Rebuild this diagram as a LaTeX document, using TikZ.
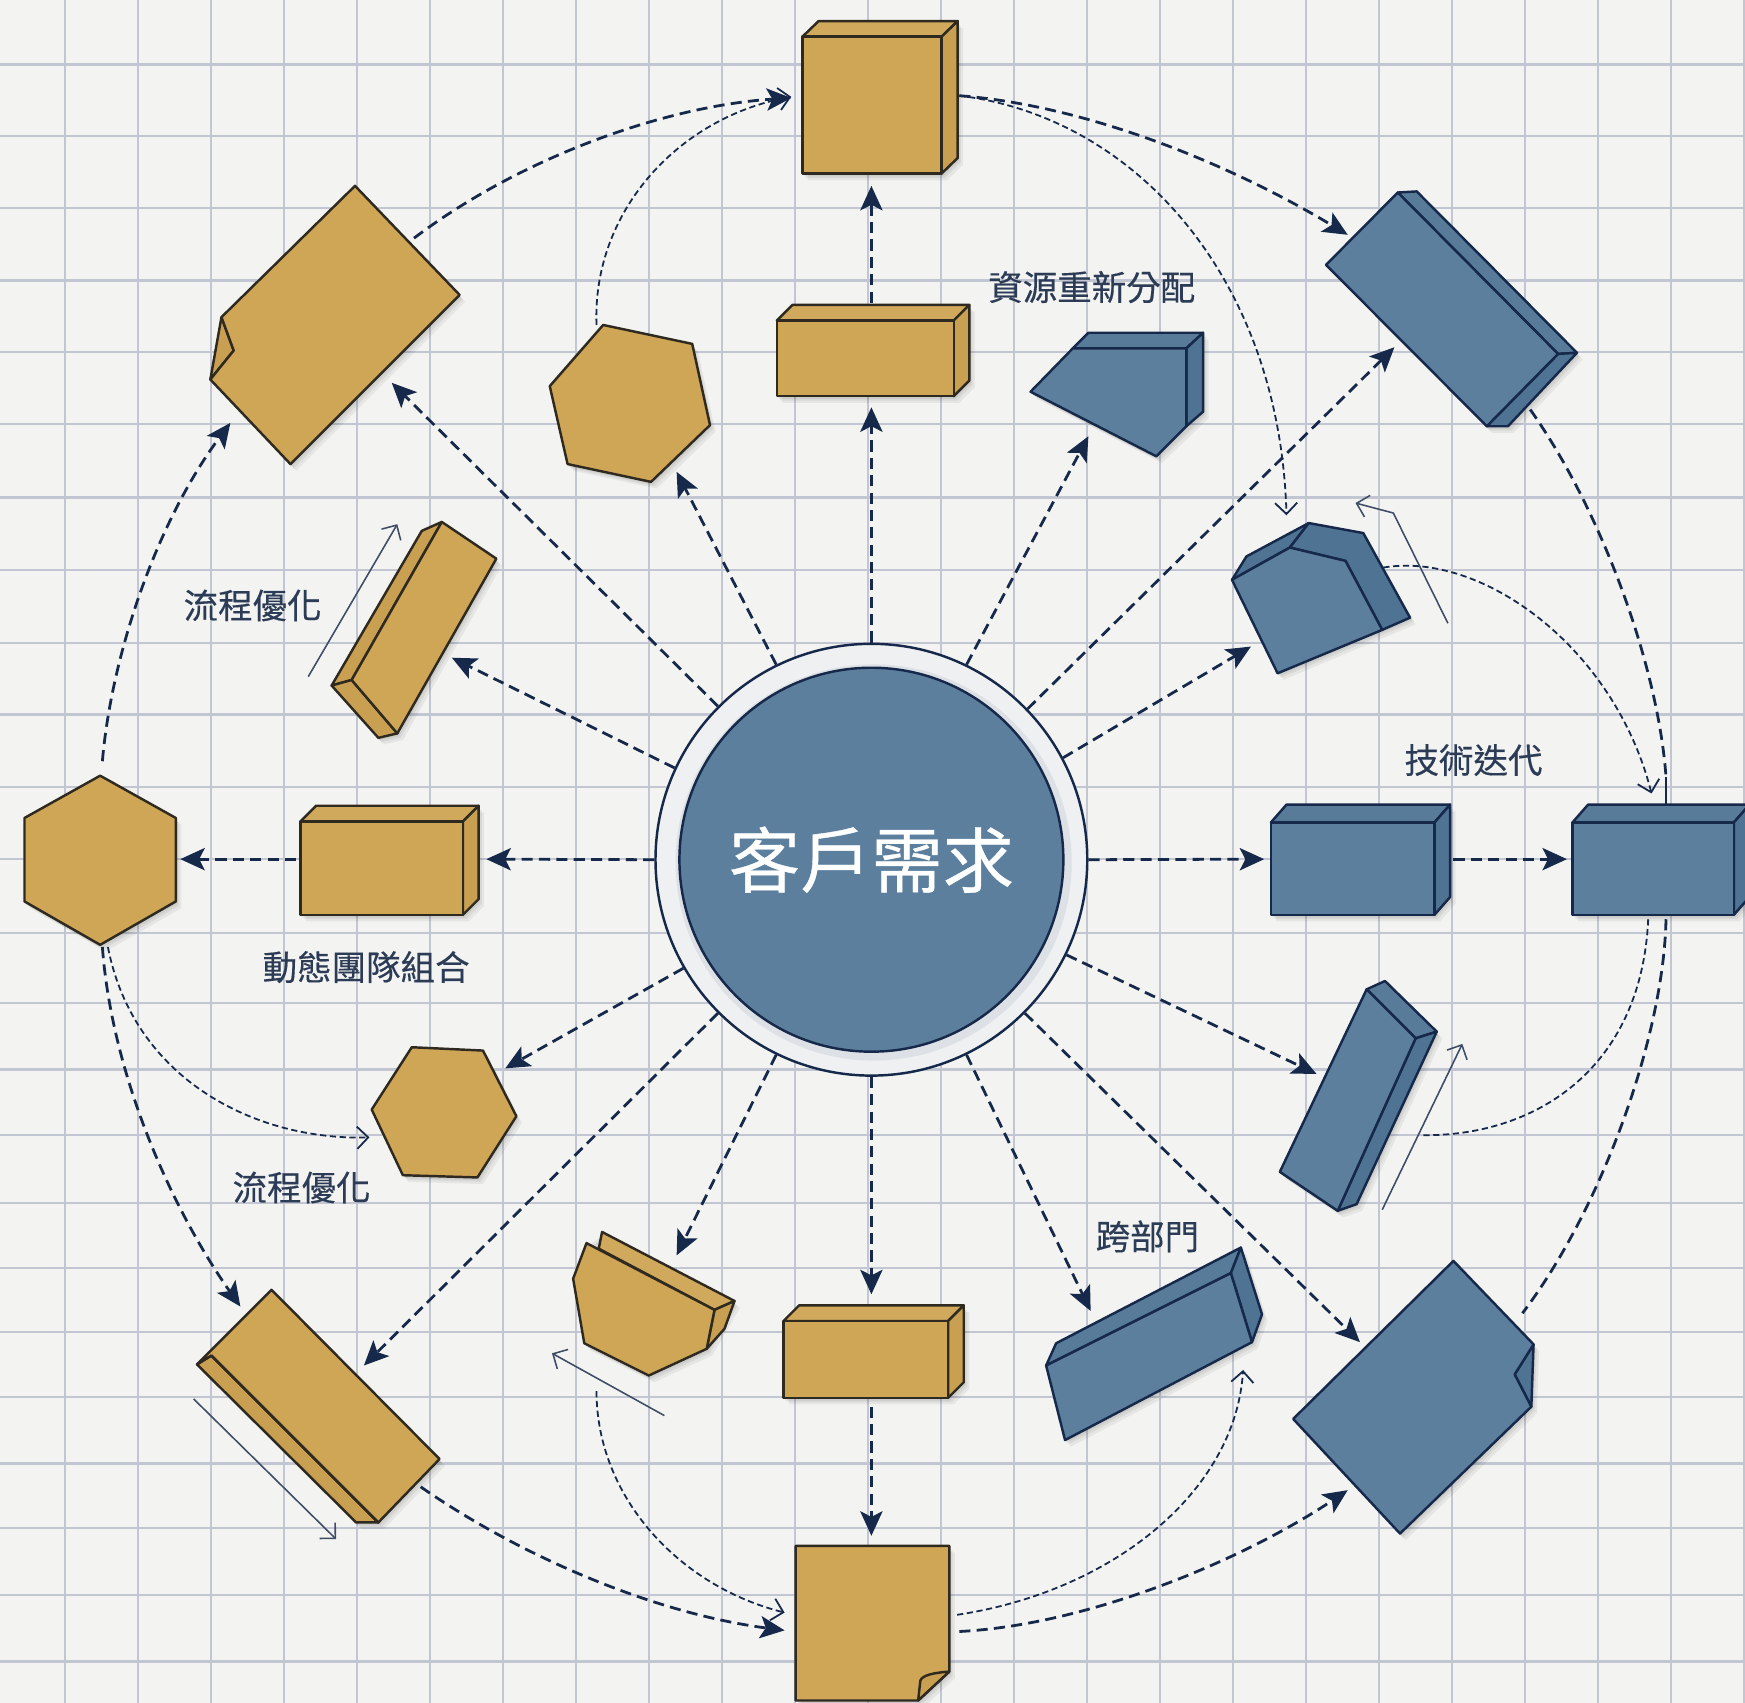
\documentclass[tikz,border=0pt]{standalone}
\usepackage{fontspec}
\setmainfont{Noto Sans CJK TC}
\newfontfamily\tagfont[FakeBold=0.35]{Noto Sans CJK TC}
\newfontfamily\hubfont[FakeBold=0.5]{Noto Sans CJK TC}
\usetikzlibrary{arrows.meta}
\definecolor{paper}{HTML}{F3F4F1}
\definecolor{gridc}{HTML}{C2C6D2}
\definecolor{navy}{HTML}{16294A}
\definecolor{labelc}{HTML}{2C3B56}
\definecolor{thinc}{HTML}{3E4C66}
\definecolor{goldf}{HTML}{CFA556}
\definecolor{golds}{HTML}{C9A052}
\definecolor{goldt}{HTML}{D0A95C}
\definecolor{goldl}{HTML}{2F2A20}
\definecolor{bluef}{HTML}{5C7F9E}
\definecolor{blues}{HTML}{4F7393}
\definecolor{bluet}{HTML}{587B9A}
\definecolor{ringc}{HTML}{EEF0F1}
\definecolor{ringd}{HTML}{DDE1E6}
\tikzset{
  x=0.5pt,y=-0.5pt,
  gridline/.style={gridc,line width=.95pt},
  goldface/.style={fill=goldf,draw=goldl,line width=1.1pt,line join=round},
  goldside/.style={fill=golds,draw=goldl,line width=1.1pt,line join=round},
  goldtop/.style={fill=goldt,draw=goldl,line width=1.1pt,line join=round},
  blueface/.style={fill=bluef,draw=navy,line width=1.1pt,line join=round},
  blueside/.style={fill=blues,draw=navy,line width=1.1pt,line join=round},
  bluetop/.style={fill=bluet,draw=navy,line width=1.1pt,line join=round},
  radial/.style={navy,line width=1.25pt,dash pattern=on 5pt off 2.8pt,
    -{Stealth[length=11pt,width=10pt,inset=2.5pt]}},
  orbit/.style={navy,line width=1.25pt,dash pattern=on 5pt off 2.8pt,
    -{Stealth[length=11pt,width=10pt,inset=2.5pt]}},
  orbitplain/.style={navy,line width=1.25pt,dash pattern=on 5pt off 2.8pt},
  loopline/.style={navy,line width=.8pt,dash pattern=on 2.8pt off 1.6pt,
    -{Straight Barb[length=5pt,width=10pt]}},
  loopplain/.style={navy,line width=.8pt,dash pattern=on 2.8pt off 1.6pt},
  thinarrow/.style={draw=thinc,line width=.7pt,-{Straight Barb[length=5pt,width=10pt]}},
  tag/.style={text=labelc,font=\tagfont\fontsize{15.5pt}{17pt}\selectfont,inner sep=0pt}
}
\newcommand{\softshadow}[1]{%
  \foreach \s in {1.5,3,5} {\fill[black,opacity=.055,shift={(\s,\s+1)}] #1;}}
% \solidbox{gold|blue}{xl}{yt}{xr}{yb}{dx}{dy}
\newcommand{\solidbox}[7]{%
  \softshadow{(#2,#3) -- ({#2+#6},{#3-#7}) -- ({#4+#6},{#3-#7}) -- ({#4+#6},{#5-#7}) -- (#4,#5) -- (#2,#5) -- cycle}
  \draw[#1top] (#2,#3) -- ({#2+#6},{#3-#7}) -- ({#4+#6},{#3-#7}) -- (#4,#3) -- cycle;
  \draw[#1side] (#4,#3) -- ({#4+#6},{#3-#7}) -- ({#4+#6},{#5-#7}) -- (#4,#5) -- cycle;
  \draw[#1face] (#2,#3) rectangle (#4,#5);}
\begin{document}
\begin{tikzpicture}
\useasboundingbox (0,0) rectangle (1568,1530);
\clip (0,0) rectangle (1568,1530);
\fill[paper] (0,0) rectangle (1568,1530);
% grid
\foreach \k in {0,...,23} \draw[gridline] ({58.4+65.6*\k},0) -- ({58.4+65.6*\k},1530);
\foreach \yy in {58,122,187,252,316,381,447,512,578,642,707,772,838,901,961,1020,1081,1139,1197,1255,1315,1373,1433,1493}
  \draw[gridline] (0,\yy) -- (1568,\yy);

% hub
\node[circle,draw=navy,fill=ringc,line width=1.1pt,minimum size=194pt,inner sep=0pt] (ring) at (783,772.5) {};
\node[circle,fill=ringd,minimum size=178pt,inner sep=0pt] (ringshade) at (785,775) {};
\node[circle,draw=navy,fill=bluef,line width=1.1pt,minimum size=172.5pt,inner sep=0pt,text=white,
      font=\hubfont\fontsize{32pt}{36pt}\selectfont] (hub) at (783,772.5) {客戶需求};

% ---------- shapes: gold ----------
\solidbox{gold}{721}{33}{846}{156}{14.5}{14}
\solidbox{gold}{698}{288}{857}{356}{14}{14}
\solidbox{gold}{270}{738}{416}{822}{14}{14}
\solidbox{gold}{704}{1187}{852}{1256}{14}{14}

% rotated hexagon under the top
\softshadow{(542,292) -- (622,309) -- (638,382) -- (585,433) -- (510,417) -- (494,347) -- cycle}
\draw[goldface] (542,292) -- (622,309) -- (638,382) -- (585,433) -- (510,417) -- (494,347) -- cycle;

% folded sheet upper left
\softshadow{(319,167) -- (413,265) -- (261,417) -- (189,341) -- (199,285) -- cycle}
\draw[goldside] (199,285) -- (210,315) -- (197,331) -- (189,341) -- cycle;
\draw[goldface] (319,167) -- (413,265) -- (261,417) -- (189,341) -- (197,331) -- (210,315) -- (199,285) -- cycle;

% slanted bar left
\softshadow{(379,477) -- (397,469) -- (446,502) -- (357,659) -- (340,663) -- (298,616) -- cycle}
\draw[goldside] (379,477) -- (397,469) -- (316,611) -- (298,616) -- cycle;
\draw[goldside] (298,616) -- (316,611) -- (357,659) -- (340,663) -- cycle;
\draw[goldface] (316,611) -- (397,469) -- (446,502) -- (357,659) -- cycle;

% hexagons
\softshadow{(90,697) -- (158,735) -- (158,810) -- (90,849) -- (22,810) -- (22,735) -- cycle}
\draw[goldface] (90,697) -- (158,735) -- (158,810) -- (90,849) -- (22,810) -- (22,735) -- cycle;
\softshadow{(370,941) -- (434,944) -- (464,1003) -- (429,1058) -- (362,1056) -- (334,997) -- cycle}
\draw[goldface] (370,941) -- (434,944) -- (464,1003) -- (429,1058) -- (362,1056) -- (334,997) -- cycle;

% bowl
\softshadow{(541,1107) -- (660,1169) -- (635,1212) -- (583,1236) -- (525,1207) -- (515,1149) -- (527,1117) -- cycle}
\draw[goldtop] (541,1107) -- (660,1169) -- (642,1177) -- (538,1122) -- cycle;
\draw[goldside] (642,1177) -- (660,1169) -- (651,1194) -- (635,1212) -- cycle;
\draw[goldface] (527,1117) -- (642,1177) -- (635,1212) -- (583,1236) -- (525,1207) -- (515,1149) -- cycle;

% slanted bar lower left
\softshadow{(244,1159) -- (395,1311) -- (340,1368) -- (320,1368) -- (177,1226) -- cycle}
\draw[goldside] (177,1226) -- (190,1218) -- (340,1368) -- (320,1368) -- cycle;
\draw[goldface] (244,1159) -- (395,1311) -- (340,1368) -- (190,1218) -- (177,1226) -- cycle;
\draw[goldl,line width=1.1pt] (190,1218) -- (340,1368);

% sheet at the bottom
\softshadow{(715,1389) -- (853,1389) -- (853,1502) -- (825,1528) -- (715,1528) -- cycle}
\draw[goldface] (715,1389) -- (853,1389) -- (853,1502) -- (825,1528) -- (715,1528) -- cycle;
\draw[goldside] (853,1502) .. controls (840,1503) and (829,1505) .. (827,1510) -- (825,1528) -- cycle;

% ---------- shapes: blue ----------
\solidbox{blue}{1142}{739}{1289}{822}{14}{16}
\solidbox{blue}{1413}{739}{1558}{822}{14}{16}

% wedge under 資源重新分配
\softshadow{(978,299) -- (1081,299) -- (1081,370) -- (1039,410) -- (926,352) -- cycle}
\draw[bluetop] (978,299) -- (1081,299) -- (1066,313) -- (964,313) -- cycle;
\draw[blueside] (1066,313) -- (1081,299) -- (1081,370) -- (1066,383) -- cycle;
\draw[blueface] (964,313) -- (1066,313) -- (1066,383) -- (1039,410) -- (926,352) -- cycle;

% slanted bar upper right
\softshadow{(1256,173) -- (1273,172) -- (1417,317) -- (1355,383) -- (1336,383) -- (1191.5,238) -- cycle}
\draw[bluetop] (1256,173) -- (1273,172) -- (1417,317) -- (1400,318) -- cycle;
\draw[blueside] (1400,318) -- (1417,317) -- (1355,383) -- (1336,383) -- cycle;
\draw[blueface] (1256,173) -- (1400,318) -- (1336,383) -- (1191.5,238) -- cycle;

% faceted block right
\softshadow{(1107,521) -- (1120,500) -- (1176,470) -- (1225,479) -- (1267,555) -- (1148,605) -- cycle}
\draw[blueside] (1107,521) -- (1120,500) -- (1176,470) -- (1159,492) -- cycle;
\draw[blueside] (1176,470) -- (1225,479) -- (1267,555) -- (1242,566) -- (1209,504) -- (1159,492) -- cycle;
\draw[blueface] (1107,521) -- (1159,492) -- (1209,504) -- (1242,566) -- (1148,605) -- cycle;

% slanted bar lower right
\softshadow{(1228,889) -- (1244.5,881.5) -- (1291,927) -- (1219,1082) -- (1202,1088) -- (1150,1053) -- cycle}
\draw[bluetop] (1228,889) -- (1244.5,881.5) -- (1291,927) -- (1272,933) -- cycle;
\draw[blueside] (1272,933) -- (1291,927) -- (1219,1082) -- (1202,1088) -- cycle;
\draw[blueface] (1228,889) -- (1272,933) -- (1202,1088) -- (1150,1053) -- cycle;

% wedge under 跨部門
\softshadow{(949,1207) -- (1115,1121) -- (1134,1181) -- (1125,1206) -- (957,1294) -- (940,1227) -- cycle}
\draw[bluetop] (949,1207) -- (1115,1121) -- (1106,1144) -- (940,1227) -- cycle;
\draw[blueside] (1106,1144) -- (1115,1121) -- (1134,1181) -- (1125,1206) -- cycle;
\draw[blueface] (940,1227) -- (1106,1144) -- (1125,1206) -- (957,1294) -- cycle;

% sheet lower right
\softshadow{(1306,1133) -- (1378,1208) -- (1376,1264) -- (1258,1378) -- (1162,1275) -- cycle}
\draw[blueside] (1378,1208) -- (1361,1235) -- (1376,1264) -- cycle;
\draw[blueface] (1306,1133) -- (1378,1208) -- (1361,1235) -- (1376,1264) -- (1258,1378) -- (1162,1275) -- cycle;

% ---------- connector ends ----------
\coordinate (inTopBox) at (783,167);
\coordinate (outMidTop) at (783,272);
\coordinate (inMidTop) at (783,366);
\coordinate (inHexTop) at (608,424);
\coordinate (inSheetUL) at (352,344);
\coordinate (inBarL) at (406,591);
\coordinate (inBoxL) at (437,772);
\coordinate (outBoxL) at (266,772);
\coordinate (inHexL) at (162,772);
\coordinate (inHexLow) at (454,960);
\coordinate (inBarLL) at (327,1227);
\coordinate (inBowl) at (608,1128);
\coordinate (inMidLow) at (783,1163);
\coordinate (outMidLow) at (783,1264);
\coordinate (inSheetB) at (783,1380);
\coordinate (inWedgeLow) at (980,1178);
\coordinate (inSheetLR) at (1222,1206);
\coordinate (inBarLR) at (1183,965);
\coordinate (inBoxR) at (1136,772);
\coordinate (outBoxR) at (1306,772);
\coordinate (inBoxFar) at (1408,772);
\coordinate (inBlock) at (1124,581);
\coordinate (inBarUR) at (1253,312);
\coordinate (inWedgeTop) at (978,392);

% radial connectors
\draw[radial] (ring.90) -- (inMidTop);
\draw[radial] (outMidTop) -- (inTopBox);
\draw[radial] (ring.116) -- (inHexTop);
\draw[radial] (ring.135) -- (inSheetUL);
\draw[radial] (ring.155) -- (inBarL);
\draw[radial] (ring.180) -- (inBoxL);
\draw[radial] (outBoxL) -- (inHexL);
\draw[radial] (ring.210) -- (inHexLow);
\draw[radial] (ring.225) -- (inBarLL);
\draw[radial] (ring.244) -- (inBowl);
\draw[radial] (ring.270) -- (inMidLow);
\draw[radial] (outMidLow) -- (inSheetB);
\draw[radial] (ring.296) -- (inWedgeLow);
\draw[radial] (ring.315) -- (inSheetLR);
\draw[radial] (ring.334) -- (inBarLR);
\draw[radial] (ring.0) -- (inBoxR);
\draw[radial] (outBoxR) -- (inBoxFar);
\draw[radial] (ring.28) -- (inBlock);
\draw[radial] (ring.44) -- (inBarUR);
\draw[radial] (ring.64) -- (inWedgeTop);

% outer ring of connectors
\coordinate (outHexLup) at (92,684);
\coordinate (inSheetULb) at (207,380);
\coordinate (outSheetUL) at (372,214);
\coordinate (inTopBoxL) at (711,88);
\coordinate (outTopBoxR) at (862,86);
\coordinate (inBarURb) at (1211,211);
\coordinate (outBarUR) at (1375,368);
\coordinate (inBoxFarTop) at (1497,698);
\coordinate (farTop) at (1497,722);
\coordinate (outBoxFarLow) at (1497,826);
\coordinate (endSheetLR) at (1368,1180);
\coordinate (outSheetBa) at (862,1466);
\coordinate (inSheetLRb) at (1211,1339);
\coordinate (outBarLL) at (378,1336);
\coordinate (inSheetBa) at (705,1465);
\coordinate (outHexLdown) at (92,851);
\coordinate (inBarLLb) at (216,1174);

\draw[orbit] (outHexLup) .. controls (100,590) and (140,470) .. (inSheetULb);
\draw[orbit] (outSheetUL) .. controls (470,140) and (600,95) .. (inTopBoxL);
\draw[orbit] (outTopBoxR) .. controls (980,95) and (1110,150) .. (inBarURb);
\draw[orbitplain] (outBarUR) .. controls (1440,460) and (1490,600) .. (inBoxFarTop);
\draw[navy,line width=.9pt] (inBoxFarTop) -- (farTop);
\draw[orbitplain] (outBoxFarLow) .. controls (1495,930) and (1440,1085) .. (endSheetLR);
\draw[orbit] (outSheetBa) .. controls (980,1460) and (1120,1400) .. (inSheetLRb);
\draw[orbit] (outBarLL) .. controls (470,1400) and (590,1450) .. (inSheetBa);
\draw[orbit] (outHexLdown) .. controls (100,960) and (150,1080) .. (inBarLLb);

% thin dashed loops
\coordinate (outHexTop) at (536,292);
\coordinate (inTopBoxLb) at (711,87);
\coordinate (inBlockTop) at (1156,463);
\coordinate (outBlock) at (1243,510);
\coordinate (inBoxFarTopb) at (1484,713);
\coordinate (outBoxFarLowb) at (1481,826);
\coordinate (endBarLR) at (1276,1020);
\coordinate (outHexLdownb) at (97,851);
\coordinate (inHexLowb) at (332,1022);
\coordinate (outBowl) at (536,1250);
\coordinate (inSheetBb) at (705,1449);
\coordinate (outSheetBb) at (860,1451);
\coordinate (inWedgeLowb) at (1117,1231);

\draw[loopline] (outHexTop) .. controls (532,190) and (610,105) .. (inTopBoxLb);
\draw[loopline] (outTopBoxR) .. controls (1020,105) and (1150,250) .. (inBlockTop);
\draw[loopline] (outBlock) .. controls (1330,495) and (1450,580) .. (inBoxFarTopb);
\draw[loopplain] (outBoxFarLowb) .. controls (1475,960) and (1380,1022) .. (endBarLR);
\draw[loopline] (outHexLdownb) .. controls (120,970) and (230,1025) .. (inHexLowb);
\draw[loopline] (outBowl) .. controls (536,1345) and (610,1425) .. (inSheetBb);
\draw[loopline] (outSheetBb) .. controls (1000,1430) and (1110,1340) .. (inWedgeLowb);

% thin solid arrows beside shapes
\coordinate (thinAa) at (277,608);   \coordinate (thinAb) at (357,471);
\coordinate (thinBa) at (597,1272);  \coordinate (thinBb) at (496,1216);
\coordinate (thinCa) at (174,1257);  \coordinate (thinCb) at (302,1383);
\coordinate (thinDa) at (1242,1087); \coordinate (thinDb) at (1314,938);
\coordinate (thinEa) at (1301,560);  \coordinate (thinEm) at (1252,461); \coordinate (thinEb) at (1218,452);
\draw[thinarrow] (thinAa) -- (thinAb);
\draw[thinarrow] (thinBa) -- (thinBb);
\draw[thinarrow] (thinCa) -- (thinCb);
\draw[thinarrow] (thinDa) -- (thinDb);
\draw[thinarrow] (thinEa) -- (thinEm) -- (thinEb);

% labels
\node[tag] (tagRes) at (981,258) {資源重新分配};
\node[tag] (tagTech) at (1324,683) {技術迭代};
\node[tag] (tagProcA) at (227,544) {流程優化};
\node[tag] (tagTeam) at (329,869) {動態團隊組合};
\node[tag] (tagProcB) at (271,1067) {流程優化};
\node[tag] (tagCross) at (1031,1111) {跨部門};
\end{tikzpicture}
\end{document}
